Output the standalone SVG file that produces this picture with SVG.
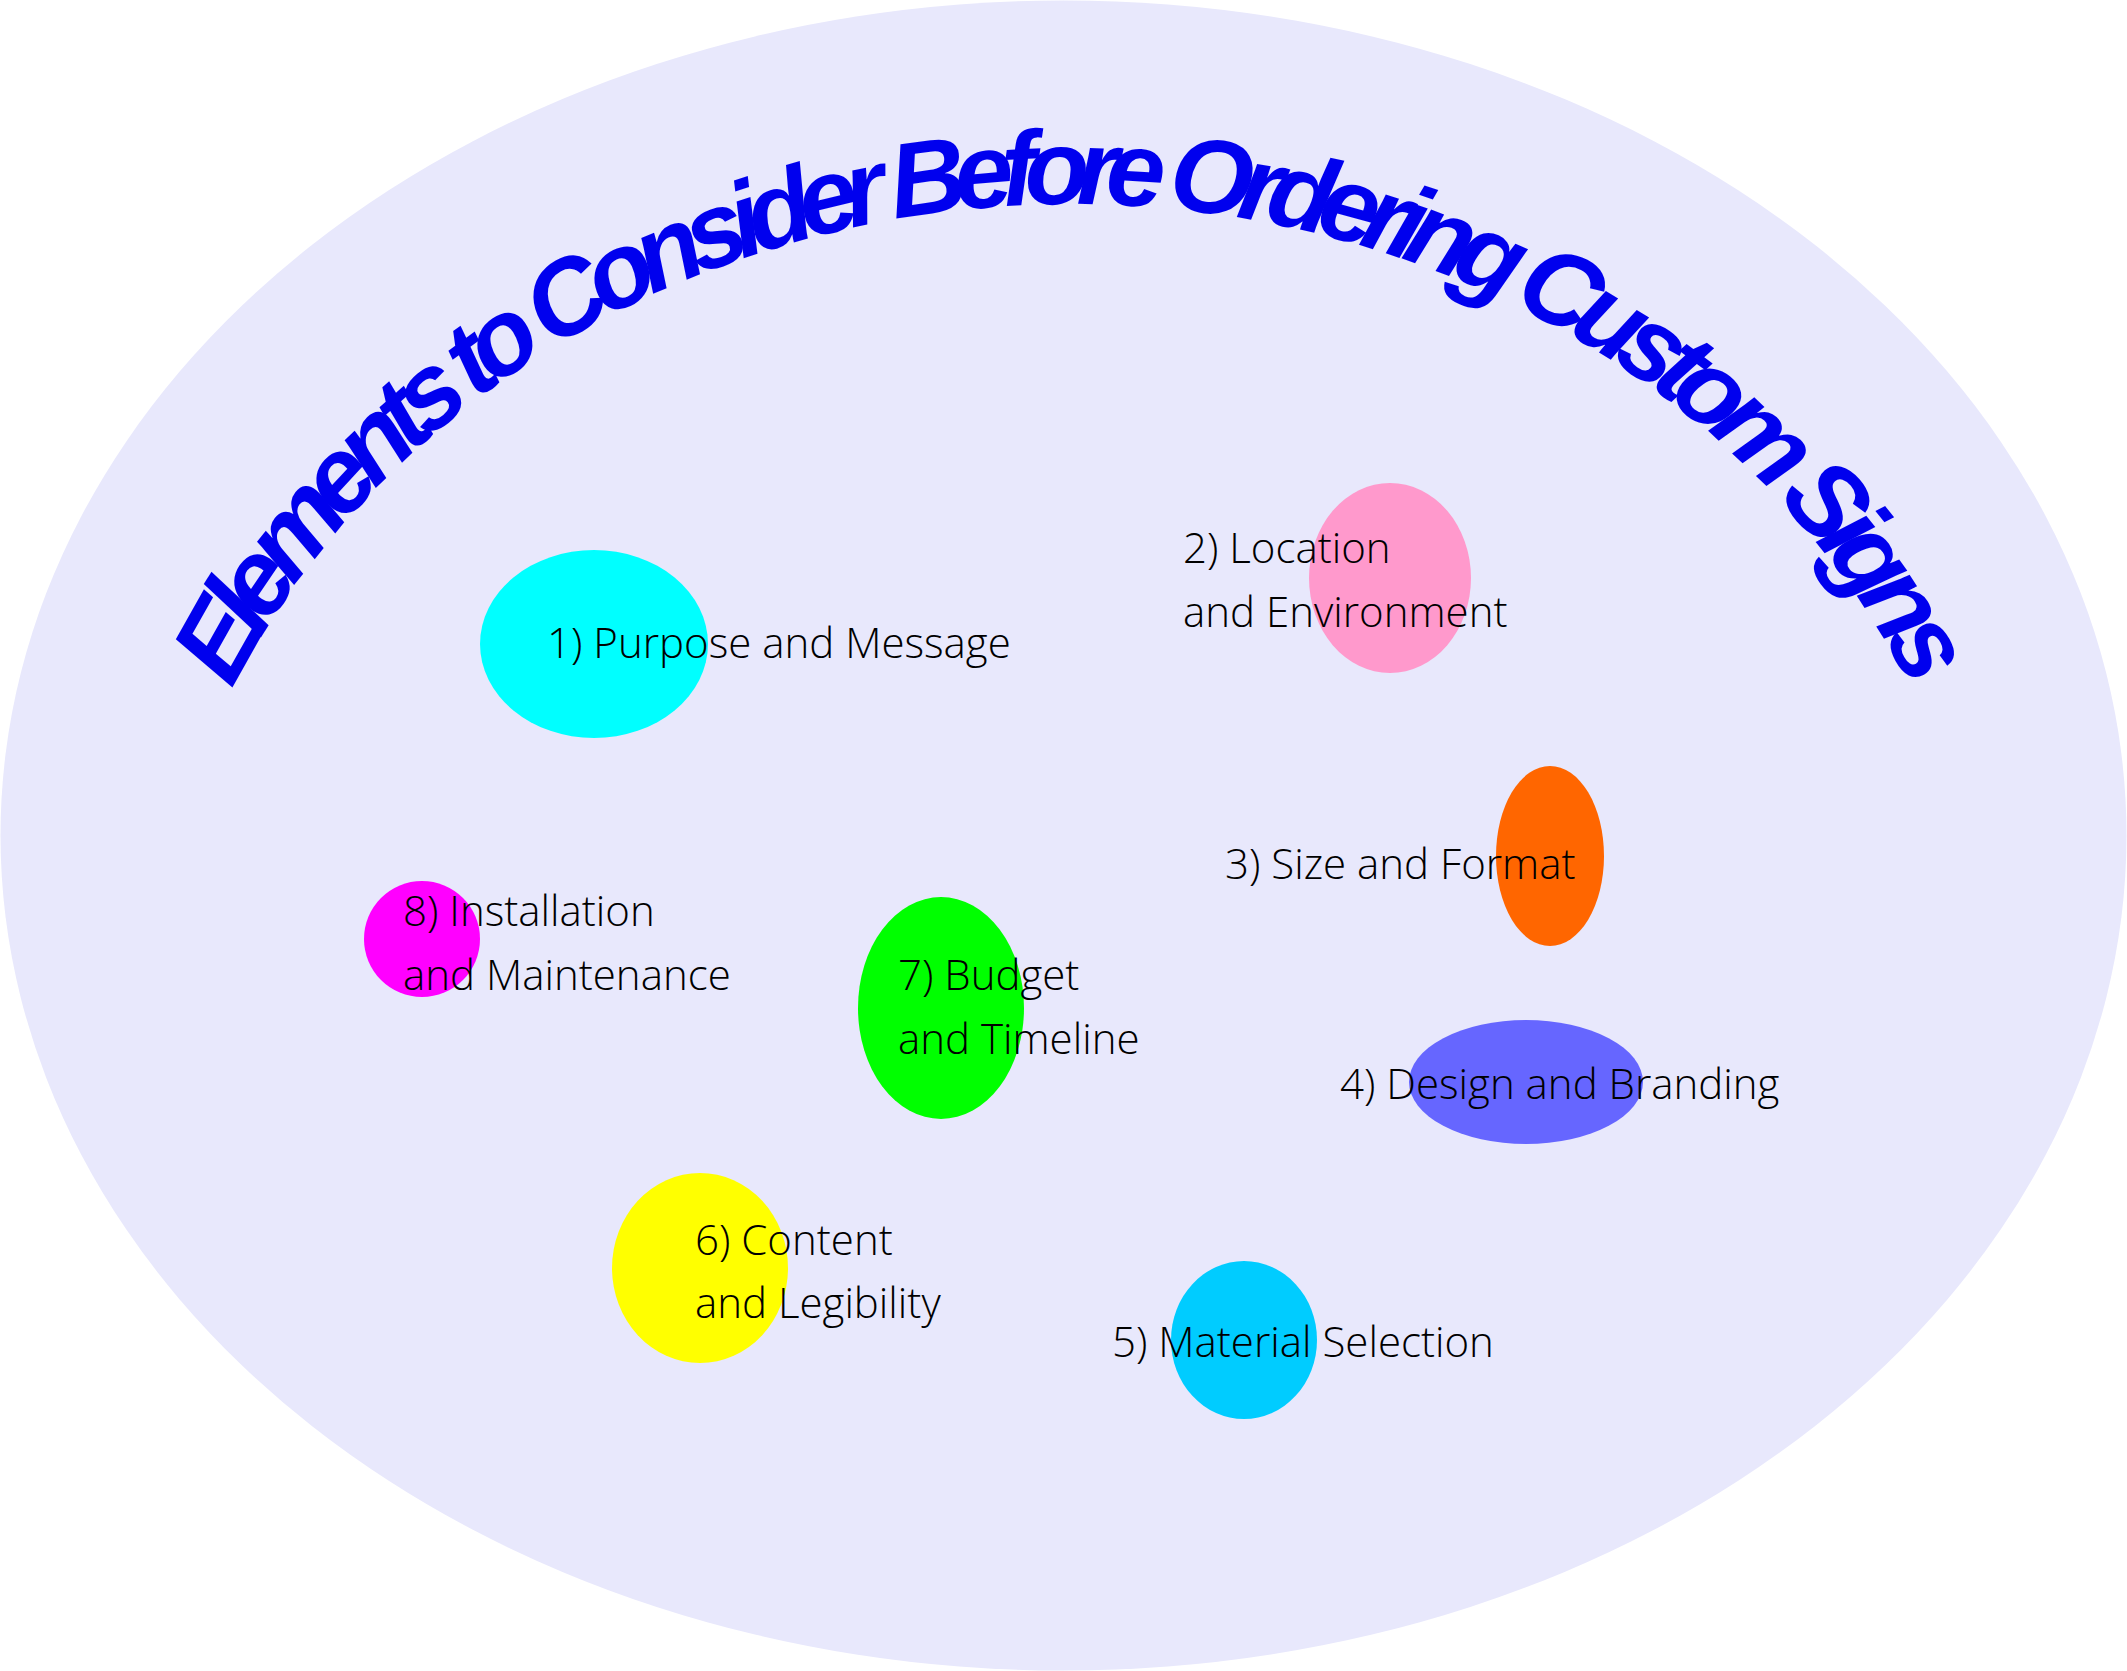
<svg xmlns="http://www.w3.org/2000/svg" width="2127" height="1671" viewBox="0 0 2127 1671">
<style>
.t{font-family:"Open Sans","Liberation Sans",sans-serif;font-weight:300;font-size:42px;fill:#000}
.title{font-family:"Liberation Sans",sans-serif;font-weight:bold;font-style:italic;font-size:106px;fill:#0000ee}
</style>
<defs><path id="arc" d="M 150 1031 A 922 827 0 0 1 1994 1031"/></defs>
<rect width="2127" height="1671" fill="#fff"/>
<ellipse cx="1063.5" cy="835.5" rx="1063" ry="835" fill="#e8e8fc"/>
<text class="title"><textPath href="#arc" startOffset="50%" text-anchor="middle" textLength="2040" lengthAdjust="spacing">Elements to Consider Before Ordering Custom Signs</textPath></text>
<g id="connectors"/>
<g id="n1"><ellipse cx="594" cy="644" rx="114" ry="94" fill="#00ffff"/><text class="t" x="547" y="658">1) Purpose and Message</text></g>
<g id="n2"><ellipse cx="1390" cy="578" rx="81" ry="95" fill="#ff99cc"/><text class="t" x="1183" y="563">2) Location</text><text class="t" x="1183" y="627">and Environment</text></g>
<g id="n3"><ellipse cx="1550" cy="856" rx="54" ry="90" fill="#ff6600"/><text class="t" x="1225" y="879">3) Size and Format</text></g>
<g id="n4"><ellipse cx="1526" cy="1082" rx="117" ry="62" fill="#6666ff"/><text class="t" x="1340" y="1099">4) Design and Branding</text></g>
<g id="n5"><ellipse cx="1244" cy="1340" rx="73" ry="79" fill="#00ccff"/><text class="t" x="1112" y="1357">5) Material Selection</text></g>
<g id="n6"><ellipse cx="700" cy="1268" rx="88" ry="95" fill="#ffff00"/><text class="t" x="695" y="1255">6) Content</text><text class="t" x="695" y="1318">and Legibility</text></g>
<g id="n7"><ellipse cx="941" cy="1008" rx="83" ry="111" fill="#00ff00"/><text class="t" x="898" y="990">7) Budget</text><text class="t" x="898" y="1054">and Timeline</text></g>
<g id="n8"><circle cx="422" cy="939" r="58" fill="#ff00ff"/><text class="t" x="403" y="926">8) Installation</text><text class="t" x="403" y="990">and Maintenance</text></g>
</svg>
